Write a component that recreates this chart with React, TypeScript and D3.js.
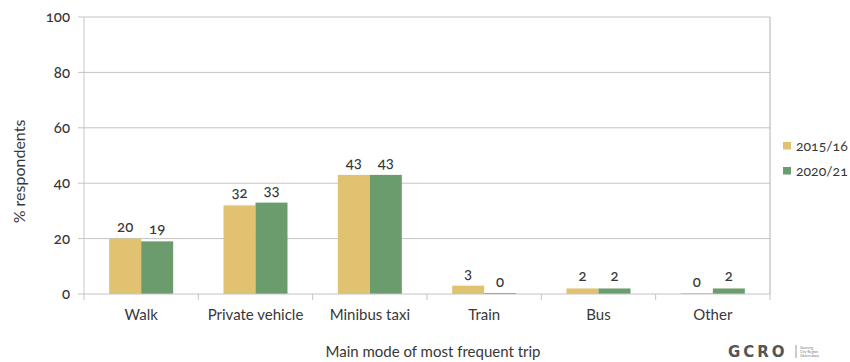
import React from "react";
import * as d3 from "d3";

const categories = ["Walk", "Private vehicle", "Minibus taxi", "Train", "Bus", "Other"];
const series = ["2015/16", "2020/21"];
const values2015 = [20, 32, 43, 3, 2, 0];
const values2020 = [19, 33, 43, 0, 2, 2];
const yTicks = [0, 20, 40, 60, 80, 100];
const colors = ["#e0c271", "#6a9c6d"];

const W = 850;
const H = 362;
const M = { left: 84, right: 770, top: 17, bottom: 294 };
const FONT = "Lato, 'Open Sans', sans-serif";
const TEXT = "#383838";

export default function App() {
  const x = d3.scaleBand().domain(categories).range([M.left, M.right]).paddingInner(0).paddingOuter(0);
  const y = d3.scaleLinear().domain([0, 100]).range([M.bottom, M.top]);
  const barW = 32;
  const xs = d3.scaleBand().domain(series).range([0, barW * 2]);
  const data = [values2015, values2020];

  return (
    <svg width={W} height={H} style={{ position: "absolute", left: 0, top: 0, fontFamily: FONT, fontVariantNumeric: "oldstyle-nums", fontFeatureSettings: "'onum' 1" }}>
      <rect x={0} y={0} width={W} height={H} fill="#fff" />
      {/* gridlines */}
      {yTicks.filter((t) => t > 0).map((t) => (
        <line key={t} x1={M.left} x2={M.right} y1={y(t)} y2={y(t)} stroke="#c4c4c4" strokeWidth={1} />
      ))}
      {/* y axis */}
      <line x1={M.left} x2={M.left} y1={M.top} y2={M.bottom} stroke="#c8c8c8" />
      <line x1={M.right} x2={M.right} y1={M.top} y2={M.bottom} stroke="#b0b0b0" />
      {yTicks.map((t) => (
        <g key={t}>
          <line x1={M.left - 6} x2={M.left} y1={y(t)} y2={y(t)} stroke="#c4c4c4" />
          <text x={70} y={y(t)} dy="0.35em" textAnchor="end" fontSize={15} fontWeight={500} fill={TEXT}>
            {t}
          </text>
        </g>
      ))}
      <text transform={`translate(25, ${(M.top + M.bottom) / 2 + 16}) rotate(-90)`} textAnchor="middle" fontSize={16} fill={TEXT}>
        % respondents
      </text>
      {/* bars */}
      {categories.map((c, i) => {
        const cx = (x(c) as number) + x.bandwidth() / 2;
        return (
          <g key={c}>
            {series.map((s, j) => {
              const v = data[j][i];
              const bx = cx - barW + (xs(s) as number);
              const h = Math.max(M.bottom - y(v), 1);
              return (
                <g key={s}>
                  <rect x={bx} y={M.bottom - h} width={barW} height={h} fill={colors[j]} />
                  <text x={bx + barW / 2} y={y(v) - 7} textAnchor="middle" fontSize={15} fontWeight={500} fill={TEXT}>
                    {d3.format(".0f")(v)}
                  </text>
                </g>
              );
            })}
          </g>
        );
      })}
      {/* x axis */}
      <line x1={M.left} x2={M.right} y1={M.bottom} y2={M.bottom} stroke="#c4c4c4" />
      {categories.map((c, i) => (
        <line key={"t" + i} x1={x(c) as number} x2={x(c) as number} y1={M.bottom} y2={M.bottom + 6} stroke="#c4c4c4" />
      ))}
      <line x1={M.right} x2={M.right} y1={M.bottom} y2={M.bottom + 6} stroke="#c4c4c4" />
      {categories.map((c) => (
        <text key={"l" + c} x={(x(c) as number) + x.bandwidth() / 2} y={320} textAnchor="middle" fontSize={15} fill={TEXT}>
          {c}
        </text>
      ))}
      <text x={433} y={357} textAnchor="middle" fontSize={15} fill={TEXT}>
        Main mode of most frequent trip
      </text>
      {/* legend */}
      {series.map((s, j) => (
        <g key={s} transform={`translate(783, ${142 + j * 25})`}>
          <rect x={0} y={0} width={8} height={7.5} fill={colors[j]} />
          <text x={13} y={4} dy="0.35em" fontSize={14} fill={TEXT}>
            {s}
          </text>
        </g>
      ))}
      {/* GCRO mark */}
      <g transform="translate(728, 351)">
        <text x={0} y={6} fontSize={15} fontWeight={700} letterSpacing={3} fill="#555" style={{ fontFamily: "'DejaVu Sans', sans-serif" }}>
          GCRO
        </text>
        <line x1={68} x2={68} y1={-6} y2={7} stroke="#999" />
        <text x={72} y={-2} fontSize={3.5} fill="#777">Gauteng</text>
        <text x={72} y={2} fontSize={3.5} fill="#777">City-Region</text>
        <text x={72} y={6} fontSize={3.5} fill="#777">Observatory</text>
      </g>
    </svg>
  );
}
